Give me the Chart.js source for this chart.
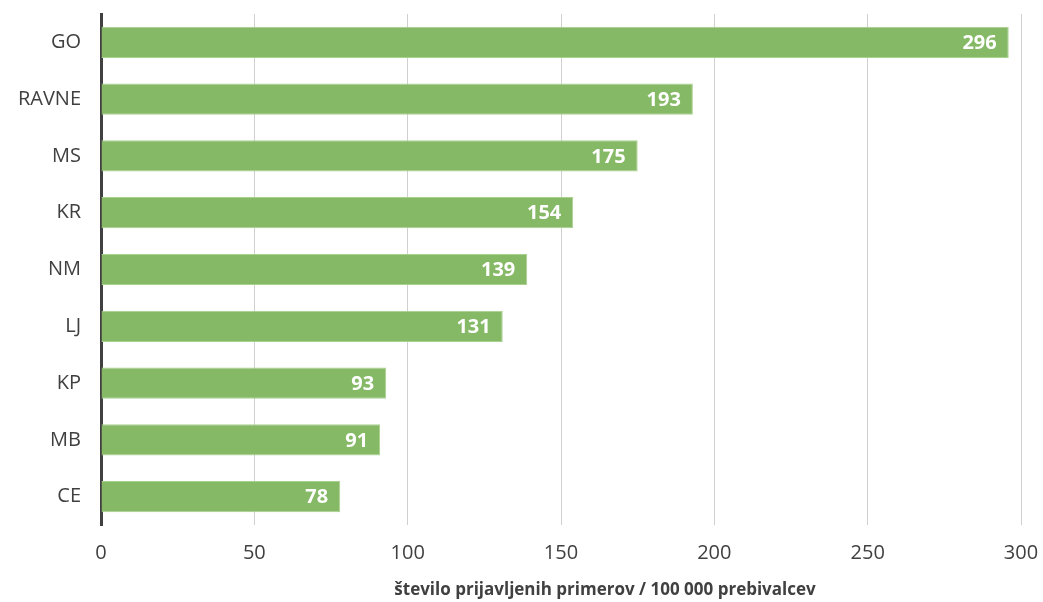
<!DOCTYPE html>
<html lang="sl">
<head>
    <meta charset="UTF-8">
    <title>Prijavljeni primeri</title>
    <script src="https://cdn.jsdelivr.net/npm/chart.js"></script>
    <style>
        body {
            margin: 0;
            background: #ffffff;
        }

        .chart-box {
            width: 1043px;
            height: 602px;
        }
    </style>
</head>
<body>
    <div class="chart-box">
        <canvas id="casesChart" width="1043" height="602"></canvas>
    </div>

    <script>
        const regions = ['GO', 'RAVNE', 'MS', 'KR', 'NM', 'LJ', 'KP', 'MB', 'CE'];
        const casesPer100k = [296, 193, 175, 154, 139, 131, 93, 91, 78];
        const axisTitle = 'število prijavljenih primerov / 100 000 prebivalcev';

        const fontFamily = "'Open Sans', 'Noto Sans', sans-serif";

        // white numbers inside bar ends + the axis title (drawn a bit right of centre, like the original)
        const valueLabels = {
            id: 'valueLabels',
            afterDatasetsDraw(chart) {
                const ctx = chart.ctx;
                const meta = chart.getDatasetMeta(0);
                ctx.save();
                ctx.font = "bold 20px " + fontFamily;
                ctx.fillStyle = '#ffffff';
                ctx.textAlign = 'right';
                ctx.textBaseline = 'middle';
                meta.data.forEach((bar, i) => {
                    ctx.fillText(casesPer100k[i], bar.x - 12, bar.y + 1);
                });

                ctx.font = "bold 17px " + fontFamily;
                ctx.fillStyle = '#404040';
                ctx.textAlign = 'center';
                ctx.fillText(axisTitle, 605, 590);
                ctx.restore();
            }
        };

        const ctx = document.getElementById('casesChart').getContext('2d');
        new Chart(ctx, {
            type: 'bar',
            data: {
                labels: regions,
                datasets: [{
                    data: casesPer100k,
                    backgroundColor: '#86b966',
                    borderColor: '#a9d18e',
                    borderWidth: 1,
                    barPercentage: 0.55,
                    categoryPercentage: 1.0
                }]
            },
            options: {
                indexAxis: 'y',
                responsive: false,
                animation: false,
                layout: {
                    padding: { top: 14, right: 22, bottom: 0, left: 0 }
                },
                plugins: {
                    legend: { display: false },
                    tooltip: { enabled: false }
                },
                scales: {
                    x: {
                        min: 0,
                        max: 300,
                        afterFit(scale) {
                            scale.paddingLeft = 0;
                            scale.paddingRight = 0;
                            scale.height = 77;
                        },
                        ticks: {
                            stepSize: 50,
                            color: '#404040',
                            padding: 16,
                            font: { family: fontFamily, size: 20 }
                        },
                        grid: {
                            color: '#d0d0d0',
                            lineWidth: 1,
                            drawTicks: false
                        },
                        border: { display: false }
                    },
                    y: {
                        afterFit(scale) {
                            scale.width = 101;
                            scale.paddingTop = 0;
                            scale.paddingBottom = 0;
                        },
                        ticks: {
                            color: '#404040',
                            padding: 20,
                            font: { family: fontFamily, size: 20 }
                        },
                        grid: { display: false, drawTicks: false },
                        border: { display: true, color: '#404040', width: 3 }
                    }
                }
            },
            plugins: [valueLabels]
        });
    </script>
</body>
</html>
